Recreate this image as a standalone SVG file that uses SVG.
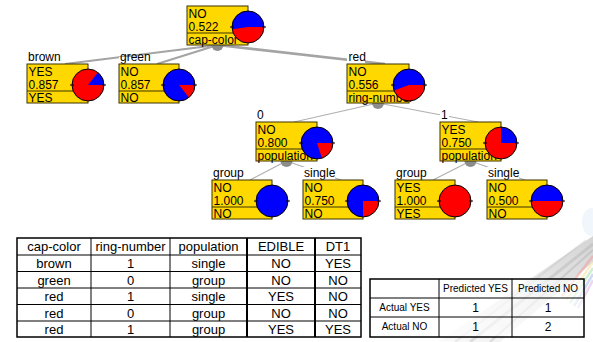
<svg xmlns="http://www.w3.org/2000/svg" width="593" height="342" viewBox="0 0 593 342">
  <defs>
    <style>
      .box { fill: #FFD800; stroke: #3b3200; stroke-width: 1; }
      .div { stroke: #3b3200; stroke-width: 1; }
      .t { font-family: "Liberation Sans", Arial, sans-serif; font-size: 12px; fill: #000; }
      .lblbg { fill: #fff; }
      .red { fill: #ff0000; }
      .blue { fill: #0000ff; }
      .ring { fill: none; stroke: #000; stroke-width: 1; }
      .tick { stroke: #000; stroke-width: 1; }
      .hub { fill: #8c8c8c; }
      .edge1 { stroke: #a4a4a4; stroke-width: 2; fill: none; }
      .edge2 { stroke: #b0b0b0; stroke-width: 1.2; fill: none; }
      .tb { font-family: "Liberation Sans", Arial, sans-serif; font-size: 13px; fill: #000; text-anchor: middle; }
      .cm { font-family: "Liberation Sans", Arial, sans-serif; font-size: 10px; fill: #000; text-anchor: middle; }
      .cmn { font-family: "Liberation Sans", Arial, sans-serif; font-size: 12px; fill: #000; text-anchor: middle; }
      .grid { stroke: #000; stroke-width: 1; fill: none; }
      .thick { stroke: #000; stroke-width: 2; fill: none; }
    </style>
    <linearGradient id="strandFade" x1="1" y1="0" x2="0" y2="1">
      <stop offset="0" stop-color="#444" stop-opacity="0.45"/>
      <stop offset="1" stop-color="#666" stop-opacity="0.05"/>
    </linearGradient>
  </defs>

  <rect width="593" height="342" fill="#fff"/>

  <!-- faint fibre-optic backdrop, lower right -->
  <g id="backdrop" opacity="0.5">
    <ellipse cx="592" cy="222" rx="10" ry="14" fill="#cfe3f5" opacity="0.6"/>
    <polygon points="593,236 593,262 500,342 438,342" fill="url(#strandFade)"/>
    <path d="M593,244 L470,342" stroke="#333" stroke-width="3" opacity="0.25"/>
    <path d="M593,250 L490,342" stroke="#222" stroke-width="2" opacity="0.25"/>
    <path d="M586,240 L455,342" stroke="#555" stroke-width="2" opacity="0.2"/>
    <path d="M593,256 L562,296" stroke="#e33" stroke-width="2.5" opacity="0.5"/>
    <path d="M593,262 L566,300" stroke="#ec3" stroke-width="2.5" opacity="0.5"/>
    <path d="M593,268 L570,303" stroke="#3b4" stroke-width="2.5" opacity="0.45"/>
    <path d="M593,274 L574,306" stroke="#36c" stroke-width="2.5" opacity="0.45"/>
    <path d="M593,280 L578,308" stroke="#a4c" stroke-width="2.5" opacity="0.4"/>
  </g>

  <!-- tree connectors -->
  <g id="connectors">
    <line class="edge1" x1="217.5" y1="45" x2="65" y2="64"/>
    <line class="edge1" x1="217.5" y1="45" x2="157" y2="64"/>
    <line class="edge1" x1="217.5" y1="45" x2="385" y2="64" style="stroke-width:2.6"/>
    <line class="edge2" x1="378" y1="103" x2="294" y2="122"/>
    <line class="edge2" x1="378" y1="103" x2="478" y2="122"/>
    <line class="edge2" x1="286.5" y1="161" x2="250" y2="180"/>
    <line class="edge2" x1="286.5" y1="161" x2="341" y2="180"/>
    <line class="edge2" x1="470.5" y1="161" x2="433" y2="180"/>
    <line class="edge2" x1="470.5" y1="161" x2="525" y2="180"/>
  </g>

  <!-- root: cap-color -->
  <g id="node-root">
    <circle class="hub" cx="217.5" cy="45" r="6"/>
    <rect class="box" x="187" y="6" width="61" height="39"/>
    <line class="div" x1="187" y1="33" x2="248" y2="33"/>
    <text class="t" x="188.5" y="18">NO</text>
    <text class="t" x="188.5" y="30.5">0.522</text>
    <text class="t" x="188.5" y="43.5">cap-color</text>
    <circle class="red" cx="248" cy="27" r="16"/>
    <path class="blue" d="M248,27 L264,27 A16,16 0 1 0 232.15,29.2 Z"/>
    <circle class="ring" cx="248" cy="27" r="16"/>
    <path class="tick" d="M230,27 h4 M262,27 h4"/>
  </g>

  <!-- cap-color = brown -->
  <g id="node-brown">
    <rect class="lblbg" x="27" y="54" width="34" height="10"/>
    <text class="t" x="28" y="61">brown</text>
    <rect class="box" x="27" y="64" width="61" height="39"/>
    <line class="div" x1="27" y1="91" x2="88" y2="91"/>
    <text class="t" x="28.5" y="76">YES</text>
    <text class="t" x="28.5" y="88.5">0.857</text>
    <text class="t" x="28.5" y="101.5">YES</text>
    <circle class="red" cx="88" cy="85" r="16"/>
    <path class="blue" d="M88,85 L104,85 A16,16 0 0 0 97.98,72.49 Z"/>
    <circle class="ring" cx="88" cy="85" r="16"/>
    <path class="tick" d="M70,85 h4 M102,85 h4"/>
  </g>

  <!-- cap-color = green -->
  <g id="node-green">
    <rect class="lblbg" x="119" y="57" width="32" height="7"/>
    <text class="t" x="120" y="61">green</text>
    <rect class="box" x="119" y="64" width="60" height="39"/>
    <line class="div" x1="119" y1="91" x2="179" y2="91"/>
    <text class="t" x="120.5" y="76">NO</text>
    <text class="t" x="120.5" y="88.5">0.857</text>
    <text class="t" x="120.5" y="101.5">NO</text>
    <circle class="red" cx="179" cy="85" r="16"/>
    <path class="blue" d="M179,85 L195,85 A16,16 0 1 0 188.98,97.51 Z"/>
    <circle class="ring" cx="179" cy="85" r="16"/>
    <path class="tick" d="M161,85 h4 M193,85 h4"/>
  </g>

  <!-- cap-color = red: ring-number -->
  <g id="node-red">
    <circle class="hub" cx="378" cy="103" r="6"/>
    <rect class="lblbg" x="347" y="53" width="18" height="11"/>
    <text class="t" x="348.5" y="61">red</text>
    <rect class="box" x="347" y="64" width="62" height="39"/>
    <line class="div" x1="347" y1="91" x2="409" y2="91"/>
    <text class="t" x="348.5" y="76">NO</text>
    <text class="t" x="348.5" y="88.5">0.556</text>
    <text class="t" x="348.5" y="101.5">ring-number</text>
    <circle class="red" cx="409" cy="85" r="16"/>
    <path class="blue" d="M409,85 L425,85 A16,16 0 1 0 393.98,90.52 Z"/>
    <circle class="ring" cx="409" cy="85" r="16"/>
    <path class="tick" d="M391,85 h4 M423,85 h4"/>
  </g>

  <!-- ring-number = 0: population -->
  <g id="node-ring0">
    <circle class="hub" cx="286.5" cy="161" r="6"/>
    <rect class="lblbg" x="256" y="110" width="9" height="12"/>
    <text class="t" x="257" y="119">0</text>
    <rect class="box" x="256" y="122" width="61" height="39"/>
    <line class="div" x1="256" y1="149" x2="317" y2="149"/>
    <text class="t" x="257.5" y="134">NO</text>
    <text class="t" x="257.5" y="146.5">0.800</text>
    <text class="t" x="257.5" y="159.5">population</text>
    <circle class="red" cx="317" cy="143" r="16"/>
    <path class="blue" d="M317,143 L333,143 A16,16 0 1 0 321.94,158.22 Z"/>
    <circle class="ring" cx="317" cy="143" r="16"/>
    <path class="tick" d="M299,143 h4 M331,143 h4"/>
  </g>

  <!-- ring-number = 1: population -->
  <g id="node-ring1">
    <circle class="hub" cx="470.5" cy="161" r="6"/>
    <rect class="lblbg" x="440" y="110" width="9" height="12"/>
    <text class="t" x="441" y="119">1</text>
    <rect class="box" x="440" y="122" width="61" height="39"/>
    <line class="div" x1="440" y1="149" x2="501" y2="149"/>
    <text class="t" x="441.5" y="134">YES</text>
    <text class="t" x="441.5" y="146.5">0.750</text>
    <text class="t" x="441.5" y="159.5">population</text>
    <circle class="red" cx="501" cy="143" r="16"/>
    <path class="blue" d="M501,143 L517,143 A16,16 0 0 0 501,127 Z"/>
    <circle class="ring" cx="501" cy="143" r="16"/>
    <path class="tick" d="M483,143 h4 M515,143 h4"/>
  </g>

  <!-- ring-number = 0, population = group -->
  <g id="node-ring0-group">
    <rect class="lblbg" x="212" y="169" width="32" height="11"/>
    <text class="t" x="213" y="177">group</text>
    <rect class="box" x="212" y="180" width="60" height="39"/>
    <line class="div" x1="212" y1="207" x2="272" y2="207"/>
    <text class="t" x="213.5" y="192">NO</text>
    <text class="t" x="213.5" y="204.5">1.000</text>
    <text class="t" x="213.5" y="217.5">NO</text>
    <circle class="blue" cx="272" cy="201" r="16"/>
    <circle class="ring" cx="272" cy="201" r="16"/>
    <path class="tick" d="M254,201 h4 M286,201 h4"/>
  </g>

  <!-- ring-number = 0, population = single -->
  <g id="node-ring0-single">
    <rect class="lblbg" x="303" y="167" width="32" height="13"/>
    <text class="t" x="304" y="177">single</text>
    <rect class="box" x="303" y="180" width="60" height="39"/>
    <line class="div" x1="303" y1="207" x2="363" y2="207"/>
    <text class="t" x="304.5" y="192">NO</text>
    <text class="t" x="304.5" y="204.5">0.750</text>
    <text class="t" x="304.5" y="217.5">NO</text>
    <circle class="red" cx="363" cy="201" r="16"/>
    <path class="blue" d="M363,201 L379,201 A16,16 0 1 0 363,217 Z"/>
    <circle class="ring" cx="363" cy="201" r="16"/>
    <path class="tick" d="M345,201 h4 M377,201 h4"/>
  </g>

  <!-- ring-number = 1, population = group -->
  <g id="node-ring1-group">
    <rect class="lblbg" x="395" y="169" width="32" height="11"/>
    <text class="t" x="396" y="177">group</text>
    <rect class="box" x="395" y="180" width="60" height="39"/>
    <line class="div" x1="395" y1="207" x2="455" y2="207"/>
    <text class="t" x="396.5" y="192">YES</text>
    <text class="t" x="396.5" y="204.5">1.000</text>
    <text class="t" x="396.5" y="217.5">YES</text>
    <circle class="red" cx="455" cy="201" r="16"/>
    <circle class="ring" cx="455" cy="201" r="16"/>
    <path class="tick" d="M437,201 h4 M469,201 h4"/>
  </g>

  <!-- ring-number = 1, population = single -->
  <g id="node-ring1-single">
    <rect class="lblbg" x="487" y="167" width="32" height="13"/>
    <text class="t" x="488" y="177">single</text>
    <rect class="box" x="487" y="180" width="60" height="39"/>
    <line class="div" x1="487" y1="207" x2="547" y2="207"/>
    <text class="t" x="488.5" y="192">NO</text>
    <text class="t" x="488.5" y="204.5">0.500</text>
    <text class="t" x="488.5" y="217.5">NO</text>
    <circle class="red" cx="547" cy="201" r="16"/>
    <path class="blue" d="M547,201 L563,201 A16,16 0 0 0 531,201 Z"/>
    <circle class="ring" cx="547" cy="201" r="16"/>
    <path class="tick" d="M529,201 h4 M561,201 h4"/>
  </g>

  <!-- data table -->
  <g id="data-table">
    <rect x="17" y="238" width="344" height="99" fill="#fff"/>
    <path class="grid" d="M17,255 H361 M17,271.5 H361 M17,288 H361 M17,304.5 H361 M17,321 H361 M91,238 V337 M170,238 V337"/>
    <path class="thick" d="M247,238 V337 M315,238 V337"/>
    <rect class="grid" x="17" y="238" width="344" height="99" style="stroke-width:1.5"/>
    <text class="tb" x="54" y="251">cap-color</text>
    <text class="tb" x="130.5" y="251">ring-number</text>
    <text class="tb" x="208.5" y="251">population</text>
    <text class="tb" x="281" y="251">EDIBLE</text>
    <text class="tb" x="338" y="251">DT1</text>

    <text class="tb" x="54" y="268">brown</text>
    <text class="tb" x="130.5" y="268">1</text>
    <text class="tb" x="208.5" y="268">single</text>
    <text class="tb" x="281" y="268">NO</text>
    <text class="tb" x="338" y="268">YES</text>

    <text class="tb" x="54" y="284.5">green</text>
    <text class="tb" x="130.5" y="284.5">0</text>
    <text class="tb" x="208.5" y="284.5">group</text>
    <text class="tb" x="281" y="284.5">NO</text>
    <text class="tb" x="338" y="284.5">NO</text>

    <text class="tb" x="54" y="301">red</text>
    <text class="tb" x="130.5" y="301">1</text>
    <text class="tb" x="208.5" y="301">single</text>
    <text class="tb" x="281" y="301">YES</text>
    <text class="tb" x="338" y="301">NO</text>

    <text class="tb" x="54" y="317.5">red</text>
    <text class="tb" x="130.5" y="317.5">0</text>
    <text class="tb" x="208.5" y="317.5">group</text>
    <text class="tb" x="281" y="317.5">NO</text>
    <text class="tb" x="338" y="317.5">NO</text>

    <text class="tb" x="54" y="334">red</text>
    <text class="tb" x="130.5" y="334">1</text>
    <text class="tb" x="208.5" y="334">group</text>
    <text class="tb" x="281" y="334">YES</text>
    <text class="tb" x="338" y="334">YES</text>
  </g>

  <!-- confusion matrix -->
  <g id="confusion-matrix">
    <rect x="370" y="279" width="214" height="58" fill="#fff" fill-opacity="0.6"/>
    <path class="grid" d="M370,298 H584 M370,317 H584 M439,279 V337 M512,279 V337"/>
    <rect class="grid" x="370" y="279" width="214" height="58" style="stroke-width:1.5"/>
    <text class="cm" x="475.5" y="292">Predicted YES</text>
    <text class="cm" x="548" y="292">Predicted NO</text>
    <text class="cm" x="404.5" y="311">Actual YES</text>
    <text class="cm" x="404.5" y="330">Actual NO</text>
    <text class="cmn" x="475.5" y="312">1</text>
    <text class="cmn" x="548" y="312">1</text>
    <text class="cmn" x="475.5" y="331">1</text>
    <text class="cmn" x="548" y="331">2</text>
  </g>
</svg>
